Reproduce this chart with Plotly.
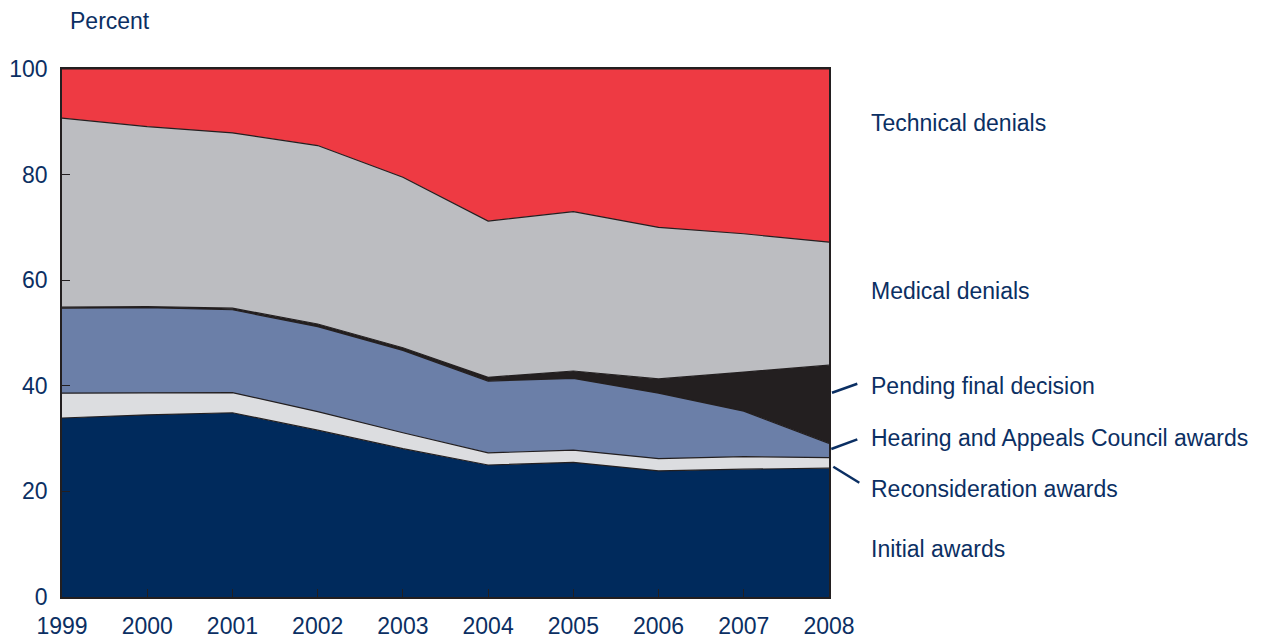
import plotly.graph_objects as go

years = [1999, 2000, 2001, 2002, 2003, 2004, 2005, 2006, 2007, 2008]
initial_awards = [33.9, 34.5, 34.9, 31.6, 28.1, 25.0, 25.5, 23.9, 24.2, 24.4]
reconsideration_awards = [4.7, 4.2, 3.8, 3.5, 3.0, 2.3, 2.3, 2.3, 2.4, 2.0]
hearing_awards = [16.1, 16.1, 15.7, 16.1, 15.6, 13.6, 13.6, 12.4, 8.6, 2.7]
pending_final = [0.2, 0.2, 0.3, 0.5, 0.5, 0.7, 1.4, 2.7, 7.4, 14.8]
medical_denials = [35.8, 34.1, 33.2, 33.8, 32.3, 29.6, 30.2, 28.7, 26.2, 23.3]
technical_denials = [9.3, 10.9, 12.1, 14.5, 20.5, 28.8, 27.0, 30.0, 31.2, 32.8]

series = [
    ("Initial awards", initial_awards, "#002a5c"),
    ("Reconsideration awards", reconsideration_awards, "#dcdde0"),
    ("Hearing and Appeals Council awards", hearing_awards, "#6b7fa8"),
    ("Pending final decision", pending_final, "#231f20"),
    ("Medical denials", medical_denials, "#bcbdc1"),
    ("Technical denials", technical_denials, "#ee3a43"),
]

label_y = {
    "Technical denials": 89.8,
    "Medical denials": 58.0,
    "Pending final decision": 40.0,
    "Hearing and Appeals Council awards": 30.1,
    "Reconsideration awards": 20.5,
    "Initial awards": 9.1,
}

TXT = "#0b2f63"
FONT = "Liberation Sans, Arial, sans-serif"
FS = 23

# page offset (body margin) compensation
OFF = 8
W, H = 1269, 637
L, R = 62, 829
T, B = 69, 597

def px(x):
    return (x - L) / (R - L)

def py(y):
    return (B - y) / (B - T) * 100

fig = go.Figure()
for name, vals, color in series:
    fig.add_trace(go.Scatter(
        x=years, y=vals, name=name, mode="lines", stackgroup="one",
        line=dict(color="#231f20", width=1.2), fillcolor=color,
        hoverinfo="x+y+name",
    ))

annotations = []
for name, yv in label_y.items():
    annotations.append(dict(
        x=px(869), y=yv, xref="paper", yref="y", text=name, showarrow=False,
        xanchor="left", yanchor="middle", font=dict(size=FS, color=TXT, family=FONT),
    ))
annotations.append(dict(
    x=px(68), y=1 + (T - 21) / (B - T), xref="paper", yref="paper", text="Percent",
    showarrow=False, xanchor="left", yanchor="middle",
    font=dict(size=FS, color=TXT, family=FONT),
))

shapes = []
for (x0, y0, x1, y1) in [(832, 392.7, 857.3, 383.7), (831.3, 449, 857.3, 439.3), (833.3, 466.7, 859.3, 482.7)]:
    shapes.append(dict(type="line", xref="paper", yref="y", x0=px(x0), y0=py(y0),
                       x1=px(x1), y1=py(y1), line=dict(color=TXT, width=2.5)))

fig.update_layout(
    width=W, height=H,
    margin=dict(l=L - OFF, r=W - R + OFF, t=T - OFF, b=H - B + OFF),
    plot_bgcolor="white", paper_bgcolor="white",
    showlegend=False,
    annotations=annotations, shapes=shapes,
    font=dict(family=FONT, color=TXT, size=FS),
)
fig.update_xaxes(
    range=[1999, 2008], tickvals=years, ticks="inside", ticklen=8,
    tickcolor="#231f20", showline=True, linecolor="#231f20", linewidth=1.5,
    mirror=True, showgrid=False, zeroline=False, ticklabelstandoff=8,
    automargin=False,
    tickfont=dict(size=FS, color=TXT, family=FONT),
)
fig.update_yaxes(
    range=[0, 100], tickvals=[0, 20, 40, 60, 80, 100], ticks="inside", ticklen=8,
    tickcolor="#231f20", showline=True, linecolor="#231f20", linewidth=1.5,
    mirror=True, showgrid=False, zeroline=False, ticklabelstandoff=8,
    automargin=False,
    tickfont=dict(size=FS, color=TXT, family=FONT),
)

fig.write_html("out.html")
